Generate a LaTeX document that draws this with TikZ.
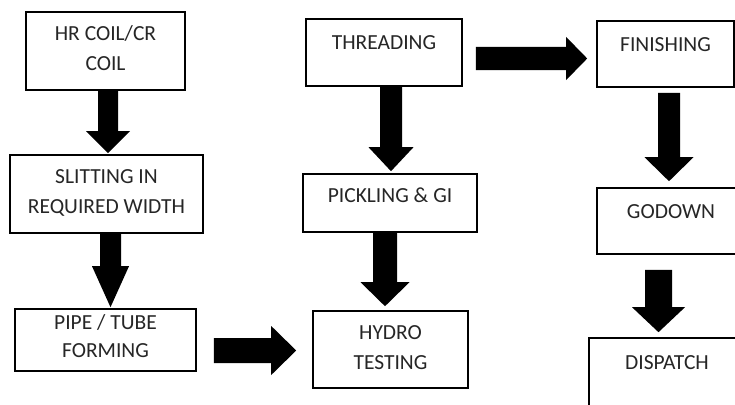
\documentclass[tikz,border=0pt]{standalone}
\usepackage{fontspec}
\setmainfont{Carlito}
\usetikzlibrary{calc}
\tikzset{
  box/.style={draw=black, line width=1.6pt, fill=white, rectangle, inner sep=0pt},
  lbl/.style={font=\fontsize{21.5}{30}\selectfont, text=black!85, align=center, inner sep=0pt},
  blk/.style={fill=black}
}
% from, to, x, gap start, gap end, shaft half width, head half width, head length
\newcommand\blkdown[8]{%
  \fill[blk] let \p1=(#1.south), \p2=(#2.north) in
  ({#3pt-#6pt},{\y1-#4pt}) -- ({#3pt+#6pt},{\y1-#4pt}) --
  ({#3pt+#6pt},{\y2+#5pt+#8pt}) -- ({#3pt+#7pt},{\y2+#5pt+#8pt}) --
  ({#3pt},{\y2+#5pt}) --
  ({#3pt-#7pt},{\y2+#5pt+#8pt}) -- ({#3pt-#6pt},{\y2+#5pt+#8pt}) -- cycle;}
% from, to, y, gap start, gap end, shaft half width, head half width, head length
\newcommand\blkright[8]{%
  \fill[blk] let \p1=(#1.east), \p2=(#2.west) in
  ({\x1+#4pt},{#3pt+#6pt}) -- ({\x2-#5pt-#8pt},{#3pt+#6pt}) --
  ({\x2-#5pt-#8pt},{#3pt+#7pt}) -- ({\x2-#5pt},{#3pt}) --
  ({\x2-#5pt-#8pt},{#3pt-#7pt}) -- ({\x2-#5pt-#8pt},{#3pt-#6pt}) --
  ({\x1+#4pt},{#3pt-#6pt}) -- cycle;}
\begin{document}
\begin{tikzpicture}[x=1pt,y=1pt]
  \useasboundingbox[fill=white] (0,0) rectangle (735,-404);
  \clip (0,0) rectangle (735,-404);
  % boxes
  \node[box, minimum width=159pt, minimum height=78pt] (hr)    at (105.5,-51)  {};
  \node[box, minimum width=193pt, minimum height=78pt] (sl)    at (106.5,-194) {};
  \node[box, minimum width=181pt, minimum height=62pt] (pipe)  at (105.5,-340) {};
  \node[box, minimum width=156pt, minimum height=67pt] (thr)   at (384,-52.5)  {};
  \node[box, minimum width=174pt, minimum height=58pt] (pick)  at (390,-203)   {};
  \node[box, minimum width=155pt, minimum height=77pt] (hydro) at (390.5,-349.5) {};
  \node[box, minimum width=137pt, minimum height=66pt] (fin)   at (665.5,-54)  {};
  \node[box, minimum width=148pt, minimum height=66pt] (god)   at (671,-221)   {};
  \node[box, minimum width=156pt, minimum height=77pt] (disp)  at (667,-376.5) {};
  % labels
  \node[lbl] (hrt)    at (105.5,-48)  {HR COIL/CR\\COIL};
  \node[lbl] (slt)    at (106.5,-193) {SLITTING IN\\REQUIRED WIDTH};
  \node[lbl, font=\fontsize{21.5}{28}\selectfont] (pipet) at (105.5,-336) {PIPE / TUBE\\FORMING};
  \node[lbl] (thrt)   at (384,-43)    {THREADING};
  \node[lbl] (pickt)  at (390,-195)   {PICKLING \& GI};
  \node[lbl] (hydrot) at (390.5,-347.5) {HYDRO\\TESTING};
  \node[lbl] (fint)   at (665.5,-45)  {FINISHING};
  \node[lbl] (godt)   at (671,-212)   {GODOWN};
  \node[lbl] (dispt)  at (667,-363)   {DISPATCH};
  % block arrows
  \blkdown{hr}{sl}{108}{0}{1}{10}{22}{22}
  \blkdown{sl}{pipe}{110.5}{0}{1}{10.5}{18.5}{41}
  \blkdown{thr}{pick}{391}{0}{2}{11}{22.5}{24}
  \blkdown{pick}{hydro}{385}{0}{4}{12}{24.5}{24}
  \blkright{pipe}{hydro}{-350.5}{17}{16}{12.5}{24.5}{25}
  \blkright{thr}{fin}{-58.5}{13}{9}{11.5}{21.5}{21}
  \blkdown{fin}{god}{669}{5}{6}{11}{24.5}{24}
  \blkdown{god}{disp}{658.5}{15}{5}{13.5}{26.5}{25}
\end{tikzpicture}
\end{document}
